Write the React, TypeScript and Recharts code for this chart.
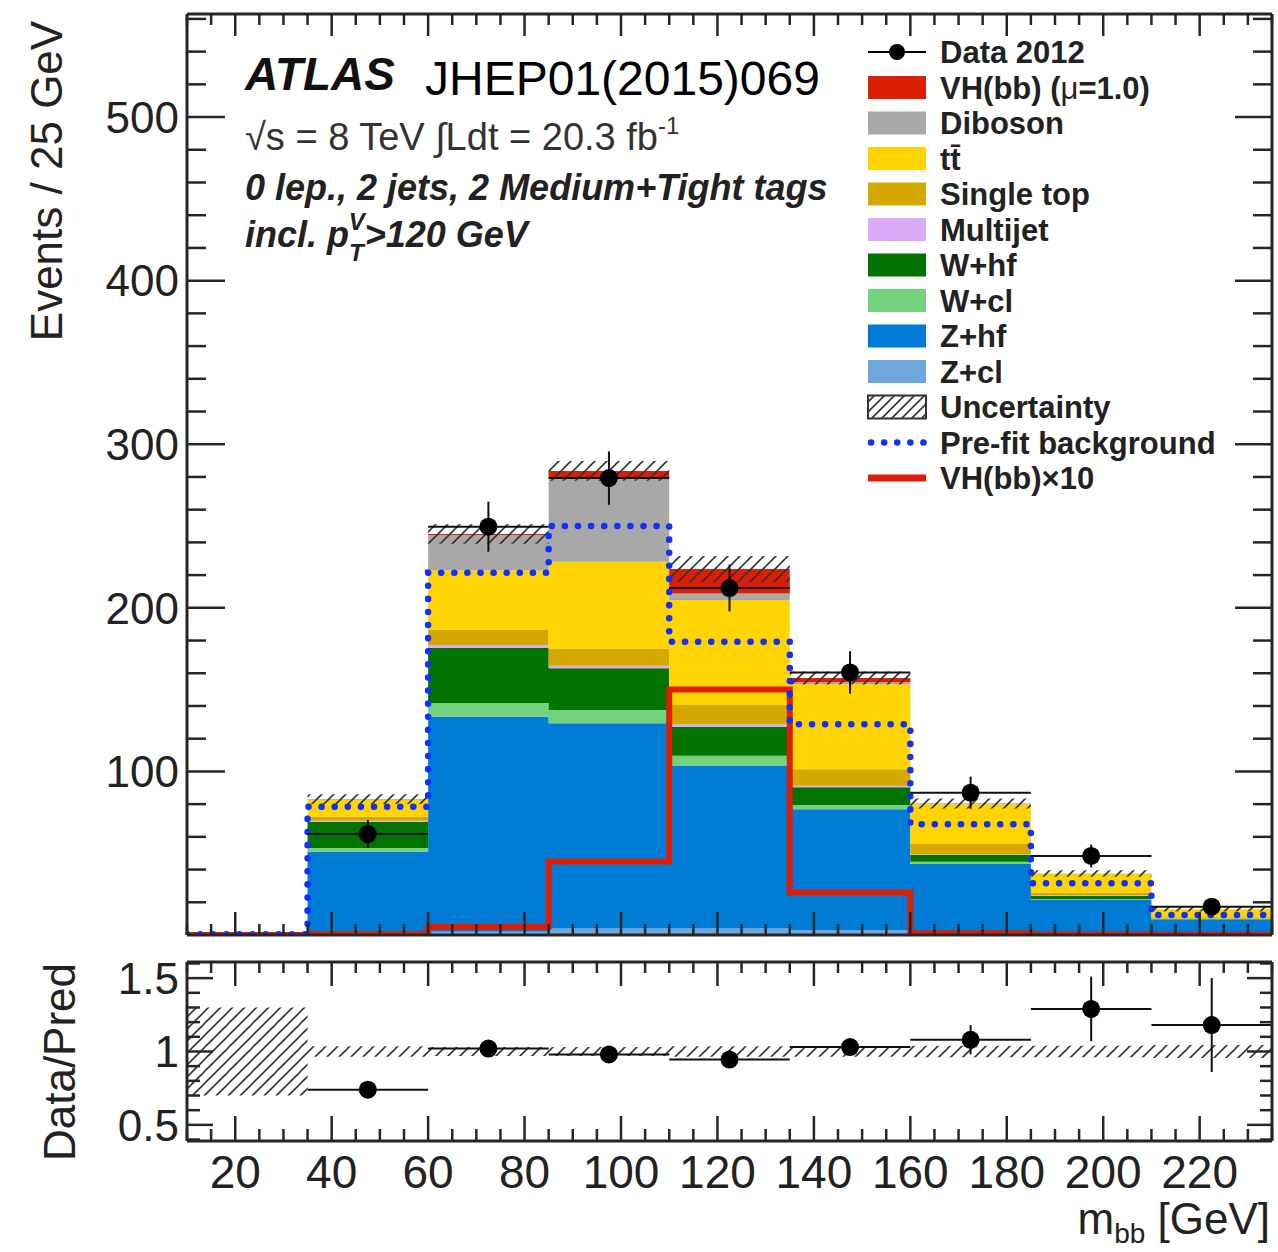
import React from 'react';
import { ComposedChart, Area, Line, Scatter, ErrorBar, XAxis, YAxis } from 'recharts';

// m_bb bin edges [GeV], 25 GeV bins
const EDGES = [10, 35, 60, 85, 110, 135, 160, 185, 210, 235];
const CENTERS = [47.5, 72.5, 97.5, 122.5, 147.5, 172.5, 197.5, 222.5];

// stacked backgrounds per bin (bottom -> top)
const Z_CL = [0, 1, 2, 4, 4, 3, 2, 1, 0.5];
const Z_HF = [0, 49.9, 131.4, 125.4, 99.6, 73.8, 41.4, 20.4, 8.7];
const W_CL = [0, 2.3, 8.4, 8.1, 5.9, 2.7, 1.4, 0.6, 0.3];
const W_HF = [0, 16.1, 33.6, 25.5, 17.8, 10.8, 4.1, 1.8, 0.5];
const MULTIJET = [0, 0.5, 1.9, 1.6, 1.7, 1.0, 0.5, 0.3, 0.1];
const SINGLE_TOP = [0, 2.5, 9.1, 10.6, 11.6, 10.0, 6.2, 1.7, 0.7];
const TTBAR = [0, 10.2, 36.6, 53.0, 64.2, 52.1, 24.3, 11.6, 4.9];
const DIBOSON = [0, 0.5, 21.5, 51.0, 3.9, 1.1, 0.4, 0.2, 0.1];
const VH = [0, 0.05, 0.6, 4.5, 15.0, 2.6, 0.1, 0.03, 0.01];

const BKG_ERR = [0, 3, 6, 6, 8, 4, 3, 2, 1.5];
const PREFIT = [0.5, 78.4, 221.5, 250, 179.3, 128.8, 67.7, 31.6, 12.2];
const VH_X10 = [0, 0.5, 5, 45, 150, 26, 1, 0.3, 0.1];

// data (bins 2..9)
const DATA = [61.7, 249.6, 279.3, 212.1, 160.5, 87, 48.3, 17.3];
const DATA_ERR = [8.5, 15.3, 16.3, 14.3, 13, 9.8, 7, 4];

// ratio panel
const RATIO = [0.74, 1.02, 0.98, 0.945, 1.03, 1.08, 1.29, 1.18];
const RATIO_ERR = [0.05, 0.04, 0.04, 0.045, 0.05, 0.1, 0.22, 0.32];
const RATIO_BAND = [0.3, 0.035, 0.03, 0.03, 0.035, 0.035, 0.04, 0.04, 0.045];

const X_MAJOR = [20, 40, 60, 80, 100, 120, 140, 160, 180, 200, 220];
const Y_MAJOR = [100, 200, 300, 400, 500];
const R_MAJOR = [0.5, 1, 1.5];

const X_TICKS: number[] = [];
for (let v = 10; v <= 235; v += 5) X_TICKS.push(v);
const Y_TICKS: number[] = [];
for (let v = 20; v <= 560; v += 20) Y_TICKS.push(v);
const R_TICKS: number[] = [];
for (let k = 4; k <= 16; k++) R_TICKS.push(k / 10);

const FONT = '"Liberation Sans", Arial, Helvetica, sans-serif';
const INK = '#262626';

const STACK = [
  { key: 'zcl', name: 'Z+cl', color: '#6fa6dc', values: Z_CL },
  { key: 'zhf', name: 'Z+hf', color: '#007bd6', values: Z_HF },
  { key: 'wcl', name: 'W+cl', color: '#73d27d', values: W_CL },
  { key: 'whf', name: 'W+hf', color: '#007300', values: W_HF },
  { key: 'mj', name: 'Multijet', color: '#d9aaf7', values: MULTIJET },
  { key: 'stop', name: 'Single top', color: '#d5a800', values: SINGLE_TOP },
  { key: 'tt', name: 'tt\u0304', color: '#ffd400', values: TTBAR },
  { key: 'dib', name: 'Diboson', color: '#a8a8a8', values: DIBOSON },
  { key: 'vh', name: 'VH(bb)', color: '#dc1e04', values: VH },
];

const at = (arr: number[], i: number) => arr[Math.min(i, arr.length - 1)];

const histRows = EDGES.map((x, i) => {
  const row: any = { x };
  let total = 0;
  STACK.forEach((s) => {
    row[s.key] = at(s.values, i);
    total += at(s.values, i);
  });
  const e = at(BKG_ERR, i);
  row.unc = [total - e, total + e];
  row.prefit = at(PREFIT, i);
  row.vh10 = at(VH_X10, i);
  const b = at(RATIO_BAND, i);
  row.rband = [1 - b, 1 + b];
  return row;
});

const dataPts = CENTERS.map((x, i) => ({ x, y: DATA[i], ey: DATA_ERR[i], ex: 12.5 }));
const ratioPts = CENTERS.map((x, i) => ({ x, y: RATIO[i], ey: RATIO_ERR[i], ex: 12.5 }));

type Side = 'left' | 'right' | 'top' | 'bottom';

function makeTick(side: Side, major: number[], majorLen: number, minorLen: number, fmt?: (v: number) => string) {
  return (props: any) => {
    const { x, y, payload } = props;
    const v = Number(payload?.value);
    const isMajor = major.some((m) => Math.abs(m - v) < 1e-6);
    const len = isMajor ? majorLen : minorLen;
    let x2 = x;
    let y2 = y;
    if (side === 'left') x2 = x + len;
    if (side === 'right') x2 = x - len;
    if (side === 'top') y2 = y + len;
    if (side === 'bottom') y2 = y - len;
    const text = fmt && isMajor ? fmt(v) : null;
    return (
      <g>
        <line x1={x} y1={y} x2={x2} y2={y2} stroke={INK} strokeWidth={2.5} />
        {text && side === 'left' && (
          <text x={x - 8} y={y} dy="0.36em" textAnchor="end" fontSize={44} fontFamily={FONT} fill="#222">
            {text}
          </text>
        )}
        {text && side === 'bottom' && (
          <text x={x} y={y + 47} textAnchor="middle" fontSize={46} fontFamily={FONT} fill="#222">
            {text}
          </text>
        )}
      </g>
    );
  };
}

const hatch = (id: string) => (
  <defs>
    <pattern id={id} width={12} height={12} patternUnits="userSpaceOnUse">
      <path d="M-3,3 L3,-3 M0,12 L12,0 M9,15 L15,9" stroke="#333" strokeWidth={1.6} />
    </pattern>
  </defs>
);

const dot = (p: any) => <circle cx={p.cx} cy={p.cy} r={9} fill="#000" />;
const frame = { stroke: INK, strokeWidth: 3 };

const LEGEND = [
  { kind: 'data', label: 'Data 2012' },
  { kind: 'box', color: '#dc1e04', label: 'VH(bb) (', mu: true },
  { kind: 'box', color: '#a8a8a8', label: 'Diboson' },
  { kind: 'box', color: '#ffd400', label: 'tt\u0304' },
  { kind: 'box', color: '#d5a800', label: 'Single top' },
  { kind: 'box', color: '#d9aaf7', label: 'Multijet' },
  { kind: 'box', color: '#007300', label: 'W+hf' },
  { kind: 'box', color: '#73d27d', label: 'W+cl' },
  { kind: 'box', color: '#007bd6', label: 'Z+hf' },
  { kind: 'box', color: '#6fa6dc', label: 'Z+cl' },
  { kind: 'hatch', label: 'Uncertainty' },
  { kind: 'prefit', label: 'Pre-fit background' },
  { kind: 'vh10', label: 'VH(bb)\u00d710' },
];

function LegendSwatch({ item, cy }: { item: any; cy: number }) {
  const x0 = 868;
  const w = 58;
  if (item.kind === 'data') {
    return (
      <g>
        <line x1={x0} x2={x0 + w} y1={cy} y2={cy} stroke="#000" strokeWidth={2} />
        <circle cx={x0 + w / 2} cy={cy} r={8} fill="#000" />
      </g>
    );
  }
  if (item.kind === 'box') return <rect x={x0} y={cy - 11.5} width={w} height={23} fill={item.color} />;
  if (item.kind === 'hatch')
    return <rect x={x0} y={cy - 11.5} width={w} height={23} fill="url(#hatchLegend)" stroke="#333" strokeWidth={2} />;
  if (item.kind === 'prefit')
    return (
      <line x1={x0 + 3} x2={x0 + w} y1={cy} y2={cy} stroke="#1030ff" strokeWidth={6.5} strokeDasharray="0.1 13" strokeLinecap="round" />
    );
  return <line x1={x0} x2={x0 + w} y1={cy} y2={cy} stroke="#dc1e04" strokeWidth={7} />;
}

export default function App() {
  return (
    <div style={{ position: 'absolute', left: 0, top: 0, width: 1278, height: 1252, background: '#fff', fontFamily: FONT }}>
      <div style={{ position: 'absolute', left: 0, top: 0 }}>
        <ComposedChart width={1278} height={940} data={histRows} margin={{ top: 13, right: 5, bottom: 4, left: 0 }}>
          {hatch('hatchMain')}
          <XAxis dataKey="x" type="number" domain={[10, 235]} allowDataOverflow ticks={X_TICKS} interval={0}
            height={1} tickSize={0} tickMargin={0} tickLine={false} axisLine={frame} tick={makeTick('bottom', X_MAJOR, 23, 11)} />
          <XAxis xAxisId="top" orientation="top" dataKey="x" type="number" domain={[10, 235]} allowDataOverflow ticks={X_TICKS}
            interval={0} height={1} tickSize={0} tickMargin={0} tickLine={false} axisLine={frame} tick={makeTick('top', X_MAJOR, 22, 11)} />
          <YAxis type="number" domain={[0, 563]} allowDataOverflow ticks={Y_TICKS} interval={0} width={187}
            tickSize={0} tickMargin={0} tickLine={false} axisLine={frame} tick={makeTick('left', Y_MAJOR, 38, 19, (v) => String(v))} />
          <YAxis yAxisId="right" orientation="right" type="number" domain={[0, 563]} allowDataOverflow ticks={Y_TICKS} interval={0}
            width={1} tickSize={0} tickMargin={0} tickLine={false} axisLine={frame} tick={makeTick('right', Y_MAJOR, 37, 19)} />
          {STACK.map((s) => (
            <Area key={s.key} dataKey={s.key} name={s.name} stackId="bkg" type="stepAfter" fill={s.color} fillOpacity={1}
              stroke="none" dot={false} activeDot={false} isAnimationActive={false} />
          ))}
          <Line dataKey="vh10" type="stepAfter" stroke="#dc1e04" strokeWidth={6} dot={false} activeDot={false} isAnimationActive={false} />
          <Area dataKey="unc" type="stepAfter" fill="url(#hatchMain)" fillOpacity={1} stroke="none" dot={false} activeDot={false}
            isAnimationActive={false} />
          <Line dataKey="prefit" type="stepAfter" stroke="#1030ff" strokeWidth={6.5} strokeDasharray="0.1 13" strokeLinecap="round"
            dot={false} activeDot={false} isAnimationActive={false} />
          <Scatter data={dataPts} dataKey="y" shape={dot} isAnimationActive={false}>
            <ErrorBar dataKey="ey" direction="y" width={0} stroke="#111" strokeWidth={2} />
            <ErrorBar dataKey="ex" direction="x" width={0} stroke="#111" strokeWidth={2} />
          </Scatter>
        </ComposedChart>
      </div>

      <div style={{ position: 'absolute', left: 0, top: 940 }}>
        <ComposedChart width={1278} height={312} data={histRows} margin={{ top: 21, right: 5, bottom: 110, left: 0 }}>
          {hatch('hatchRatio')}
          <XAxis dataKey="x" type="number" domain={[10, 235]} allowDataOverflow ticks={X_TICKS} interval={0}
            height={1} tickSize={0} tickMargin={0} tickLine={false} axisLine={frame} tick={makeTick('bottom', X_MAJOR, 25, 12, (v) => String(v))} />
          <XAxis xAxisId="top" orientation="top" dataKey="x" type="number" domain={[10, 235]} allowDataOverflow ticks={X_TICKS}
            interval={0} height={1} tickSize={0} tickMargin={0} tickLine={false} axisLine={frame} tick={makeTick('top', X_MAJOR, 24, 11)} />
          <YAxis type="number" domain={[0.39, 1.61]} allowDataOverflow ticks={R_TICKS} interval={0} width={187}
            tickSize={0} tickMargin={0} tickLine={false} axisLine={frame}
            tick={makeTick('left', R_MAJOR, 26, 13, (v) => (v === 1 ? '1' : v.toFixed(1)))} />
          <YAxis yAxisId="right" orientation="right" type="number" domain={[0.39, 1.61]} allowDataOverflow ticks={R_TICKS} interval={0}
            width={1} tickSize={0} tickMargin={0} tickLine={false} axisLine={frame} tick={makeTick('right', R_MAJOR, 25, 12)} />
          <Area dataKey="rband" type="stepAfter" fill="url(#hatchRatio)" fillOpacity={1} stroke="none" dot={false} activeDot={false}
            isAnimationActive={false} />
          <Scatter data={ratioPts} dataKey="y" shape={dot} isAnimationActive={false}>
            <ErrorBar dataKey="ey" direction="y" width={0} stroke="#111" strokeWidth={2} />
            <ErrorBar dataKey="ex" direction="x" width={0} stroke="#111" strokeWidth={2} />
          </Scatter>
        </ComposedChart>
      </div>

      <svg width={1278} height={1252} style={{ position: 'absolute', left: 0, top: 0, pointerEvents: 'none' }} fontFamily={FONT}>
        <defs>
          <pattern id="hatchLegend" width={10} height={10} patternUnits="userSpaceOnUse">
            <path d="M-3,3 L3,-3 M0,10 L10,0 M7,13 L13,7" stroke="#333" strokeWidth={1.6} />
          </pattern>
        </defs>
        <text x={245} y={90} fontSize={46} fontWeight="bold" fontStyle="italic" fill="#111">ATLAS</text>
        <text x={425} y={95} fontSize={48} fill="#000">JHEP01(2015)069</text>
        <text x={245} y={150} fontSize={38} fill="#333">
          √s = 8 TeV ∫Ldt = 20.3 fb<tspan fontSize={24} dy={-16}>-1</tspan>
        </text>
        <text x={245} y={200} fontSize={36} fontWeight="bold" fontStyle="italic" fill="#222">
          0 lep., 2 jets, 2 Medium+Tight tags
        </text>
        <text x={245} y={247} fontSize={36} fontWeight="bold" fontStyle="italic" fill="#222">
          incl. p<tspan fontSize={24} dy={14}>T</tspan>
          <tspan fontSize={24} dx={-15} dy={-31}>V</tspan>
          <tspan fontSize={36} dy={17}>&gt;120 GeV</tspan>
        </text>

        {LEGEND.map((item, i) => {
          const cy = 52 + i * 35.5;
          return (
            <g key={item.label + i}>
              <LegendSwatch item={item} cy={cy} />
              <text x={940} y={cy + 11} fontSize={31} fontWeight="bold" fill="#222">
                {item.label}
                {item.mu && (
                  <>
                    <tspan fontWeight="normal">μ</tspan>=1.0)
                  </>
                )}
              </text>
            </g>
          );
        })}

        <text transform="translate(62,181) rotate(-90)" textAnchor="middle" fontSize={44} fill="#222">
          Events / 25 GeV
        </text>
        <text transform="translate(75,1062) rotate(-90)" textAnchor="middle" fontSize={44} fill="#222">
          Data/Pred
        </text>
        <text x={1270} y={1234} textAnchor="end" fontSize={44} fill="#222">
          m<tspan fontSize={28} dy={9}>bb</tspan>
          <tspan fontSize={44} dy={-9}> [GeV]</tspan>
        </text>
      </svg>
    </div>
  );
}
